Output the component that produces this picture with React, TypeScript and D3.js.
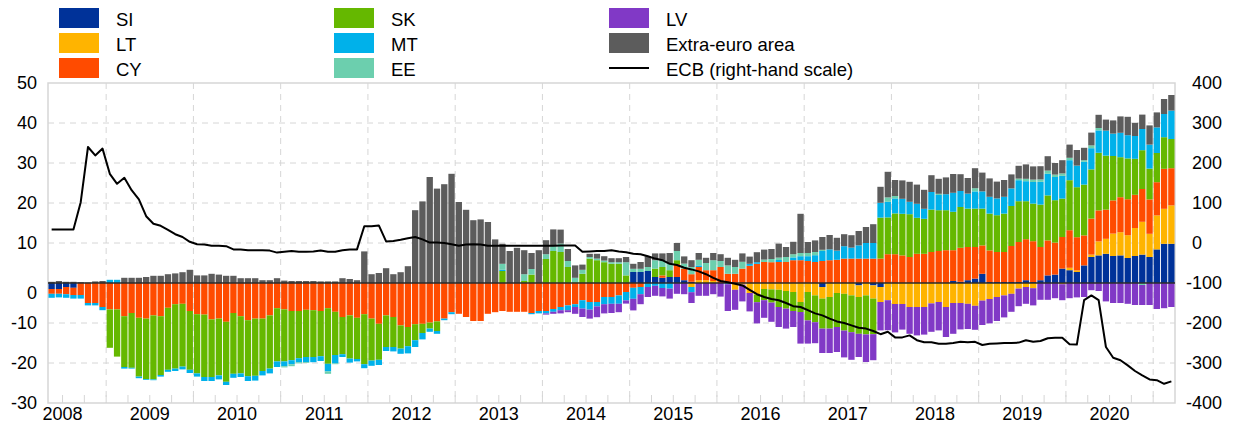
import React from "react"
import * as d3 from "d3"

// monthly observations, May 2008 - March 2021
const months = d3.timeMonth.range(new Date(2008, 4, 1), new Date(2021, 3, 1))

// left-hand scale, series (one line per year; 2008 starts in May)
const SI = [
  -1.5, -1.5, -1.0, -1.2, 0, 0, 0, 0,
  0, 0, 0, 0, 0, 0, 0, 0, 0, 0, 0, 0,
  0, 0, 0, 0, 0, 0, 0, 0, 0, 0, 0, 0,
  0, 0, 0, 0, 0, 0, 0, 0, 0, 0, 0, 0,
  0, 0, 0, 0, 0, 0, 0, 0, 0, 0, 0, 0,
  0, 0, 0, 0, 0, 0, 0, 0, 0, 0, 0, 0,
  0, 0, 0, 0, 0, 0, 0, 0, 0, 0, 0, 0,
  2.75, 2.75, 3.0, 1.5, 1.3, 1.5, 1.5, 0.7, 0.3, 0, 0, 0,
  0, 0, 0, 0, 0, 0, 0, 0, 0, 0, 0, 0,
  0, 0, -1.0, 0, 0, 0, 0, -0.6, 0, -0.6, -1.0, 0,
  0, 0, 0, 0, 0, 0, 0, 0, 0.5, 0.3, 0.7, 1.1,
  2.3, 0.25, 0.25, 0.25, 0.25, 0.25, 0.7, 0.25, 0.7, 1.9, 2.1, 3.6,
  3.2, 2.75, 4.4, 6.5, 6.9, 7.3, 6.75, 6.9, 6.25, 6.75, 7.1, 6.5,
  8.4, 9.8, 9.8,
]
const LT = [
  0, 0, 0, 0, 0, 0, 0, 0,
  0, 0, 0, 0, 0, 0, 0, 0, 0, 0, 0, 0,
  0, 0, 0, 0, 0, 0, 0, 0, 0, 0, 0, 0,
  0, 0, 0, 0, 0, 0, 0, 0, 0, 0, 0, 0,
  0, 0, 0, 0, 0, 0, 0, 0, 0, 0, 0, 0,
  0, 0, 0, 0, 0, 0, 0, 0, 0, 0, 0, 0,
  0, 0, 0, 0, 0, 0, 0, 0, 0, 0, 0, 0,
  0, 0, 0, 0, 0, 0, 0, 0, -1.0, 0.7, 0.7, 0.5,
  0, 0, -1.7, -0.4, -2.5, -2.9, -1.5, -1.6, -1.7, -2.0, -2.25, -4.75,
  -2.25, -3.1, -2.9, -3.5, -2.5, -2.7, -3.1, -2.9, -3.1, -3.3, -3.75, -4.3,
  -5.25, -5.25, -6.0, -6.0, -6.0, -5.1, -4.75, -6.0, -5.0, -5.0, -5.2, -5.7,
  -4.4, -4.0, -3.5, -3.1, -2.7, -1.4, -1.0, -1.3, 0, 0, 0, -0.3,
  0.6, 0.4, 0, 0.6, 3.5, 3.75, 5.6, 5.8, 5.7, 7.0, 8.2, 5.8,
  8.5, 8.75, 9.6,
]
const CY = [
  -1.2, -1.2, -1.8, -1.8, -3.0, -5.0, -5.0, -6.0,
  -6.6, -6.6, -8.3, -7.5, -8.7, -8.9, -8.1, -8.3, -6.2, -5.3, -5.2, -7.0,
  -7.8, -7.9, -9.1, -8.9, -9.7, -7.5, -8.3, -9.3, -8.9, -8.9, -8.1, -6.3,
  -6.6, -7.0, -7.0, -6.7, -6.8, -7.0, -6.3, -7.2, -8.5, -8.1, -8.7, -7.8,
  -8.9, -10.2, -8.1, -8.5, -10.6, -11.0, -10.3, -10.2, -9.9, -9.6, -8.9, -7.3,
  -7.7, -8.5, -9.5, -9.5, -7.7, -7.3, -7.0, -7.2, -7.2, -7.2, -7.5, -7.0,
  -7.0, -6.5, -6.0, -5.6, -5.3, -4.3, -4.75, -4.75, -3.5, -3.5, -3.1, -2.25,
  -1.2, -1.0, 0, 0, 0.6, 0, 3.2, 2.9, 1.9, 3.3, 2.5, 2.7,
  4.0, 2.3, 2.3, 3.6, 4.3, 4.8, 5.25, 5.2, 5.25, 5.25, 5.7, 5.7,
  5.5, 5.25, 5.5, 5.7, 5.8, 6.1, 6.1, 6.1, 6.1, 6.1, 6.1, 7.2,
  7.2, 6.9, 6.5, 7.3, 7.3, 7.75, 8.0, 8.2, 7.7, 8.5, 8.3, 7.9,
  7.1, 7.9, 7.5, 7.5, 9.0, 10.0, 10.25, 10.2, 8.3, 8.75, 8.0, 7.9,
  9.4, 8.3, 7.5, 9.0, 7.75, 7.3, 8.3, 8.75, 9.0, 8.3, 8.2, 8.6,
  8.3, 10.0, 9.3,
]
const SK = [
  0, 0, 0, 0, 0, 0, 0, 0,
  -9.6, -11.8, -12.7, -13.7, -14.7, -15.1, -16.0, -14.7, -15.5, -16.1, -15.7, -14.7,
  -14.8, -15.6, -14.4, -14.2, -15.0, -15.2, -14.3, -14.0, -14.3, -13.1, -13.3, -13.3,
  -13.0, -12.3, -11.8, -11.8, -11.7, -11.3, -13.9, -10.8, -9.3, -10.8, -10.3, -12.5,
  -10.5, -9.0, -7.9, -7.5, -5.8, -4.8, -4.0, -2.3, -1.5, -2.4, 0, 0,
  0, 0, 0, 0, 0, 0, 3.0, 0, 0, 0.5, 2.1, 0,
  6.0, 8.0, 7.75, 4.0, 0.2, 2.3, 6.1, 5.7, 5.2, 4.8, 4.8, 1.9,
  0, 0, 0, 2.1, 2.1, 1.7, 1.0, 0, 0, 0, 0, 0,
  0, 0, 0, 0, 0, -1.9, -2.8, -3.3, -4.3, -4.4, -4.75, -2.5,
  -7.1, -6.7, -7.5, -7.9, -8.5, -9.2, -9.2, -9.2, -9.75, -8.9, 10.25, 9.2,
  10.2, 10.4, 10.7, 9.0, 8.75, 10.6, 10.2, 10.0, 9.6, 10.2, 9.6, 9.6,
  9.2, 9.2, 9.2, 9.6, 10.0, 10.2, 9.5, 9.4, 10.6, 11.25, 10.6, 9.6,
  12.5, 12.5, 12.7, 12.3, 14.4, 13.5, 11.1, 10.0, 10.2, 9.0, 9.7, 7.7,
  7.3, 7.9, 7.3,
]
const MT = [
  -1.0, -0.9, -0.9, -0.9, -0.9, -0.6, -0.6, -0.8,
  0.8, 0.8, -0.4, -0.2, -0.4, -0.2, -0.2, -0.4, -0.5, -0.6, -0.7, -0.8,
  -0.8, -1.0, -1.0, -1.0, -0.8, -1.0, -0.9, -1.2, -1.2, -1.1, -1.2, -1.4,
  -1.2, -1.0, -1.0, -1.3, -1.3, -1.2, -1.9, -2.1, -0.7, -1.0, -0.6, -1.0,
  -1.3, -1.3, -1.0, -1.1, -1.3, -1.8, -1.7, -1.6, -0.8, -0.7, -0.4, -0.5,
  0, 0, 0, 0, 0, 0, 0.3, 0, 0, 0, -0.3, -0.6,
  -0.6, -0.7, -0.8, -1.2, -0.7, -2.1, -1.9, -1.1, -1.8, -1.7, -2.1, -2.1,
  -2.75, -1.8, -1.0, -0.7, -1.25, -1.4, 0, 0, -1.3, 0.4, 0, 0,
  0, -0.3, 0, 0, 0.5, 0.4, 0, 0, 0.5, 0, 0.7, 1.0,
  1.2, 1.7, 2.5, 2.7, 2.3, 3.1, 2.75, 3.3, 3.9, 3.9, 3.7, 3.9,
  3.75, 3.75, 3.1, 3.5, 2.5, 4.4, 3.8, 4.0, 4.75, 4.0, 3.75, 4.3,
  4.3, 4.2, 4.2, 4.2, 4.4, 5.25, 5.0, 5.4, 5.7, 5.4, 5.8, 5.7,
  5.0, 5.4, 5.7, 5.3, 5.6, 6.25, 5.6, 6.1, 5.8, 5.7, 5.3, 6.0,
  6.4, 5.8, 7.1,
]
const EE = [
  0, 0, 0, 0, 0, 0, 0, 0,
  0, 0, 0, 0, 0, 0, 0, 0, 0, 0, 0, 0,
  0, 0, 0, 0, 0, 0, 0, 0, 0, 0, 0, 0,
  -0.3, -0.5, -0.3, -0.2, 0, 0, -0.6, -0.2, 0, 0, 0, 0,
  0, 0, 0, 0, 0, 0, 0, 0, 0, 0, 0, 0,
  0, 0, 0, 0, 0, 0, 1.5, 0, 0, 1.7, 1.4, 0,
  1.2, 1.2, 2.1, 1.5, 1.1, 1.0, 0.4, 0.4, 0.4, 0.4, 0.4, 3.3,
  0.8, 0.8, 1.0, 2.1, 1.7, 1.8, 2.3, 1.25, 1.8, 1.4, 1.8, 2.5,
  1.5, 2.1, 1.7, 1.7, 0, 0, 0.6, 0.8, 0.6, 1.25, 0.8, 0.8,
  0.8, 0.8, 0.3, 0, 0, 0, 0, 0, 0, 0, 0, 1.1,
  0.6, 0, 0, 0, 0, 0, 0.3, 0, 0, 0, 0, 0.8,
  0, 0, 0, 0, 0, 0.4, 0.6, 0.6, 0.6, 0.8, 0.6, 0.6,
  0.6, 0, 0.4, 0.7, 0.6, 0, 0, 0, 0, 0, -0.5, 0,
  0, 0, 0,
]
const LV = [
  0, 0, 0, 0, 0, 0, 0, 0,
  0, 0, 0, 0, 0, 0, 0, 0, 0, 0, 0, 0,
  0, 0, 0, 0, 0, 0, 0, 0, 0, 0, 0, 0,
  0, 0, 0, 0, 0, 0, 0, 0, 0, 0, 0, 0,
  0, 0, 0, 0, 0, 0, 0, 0, 0, 0, 0, 0,
  0, 0, 0, 0, 0, 0, 0, 0, 0, 0, 0, 0,
  -0.3, -0.5, -0.8, -0.5, -1.7, -2.1, -2.25, -2.7, -2.3, -2.3, -2.1, -0.8,
  -2.9, -2.5, -2.5, -2.5, -2.1, -2.5, -2.7, -2.8, -2.7, -3.2, -3.2, -2.8,
  -3.4, -6.7, -5.0, -4.2, -4.6, -5.3, -4.4, -4.8, -5.0, -5.0, -4.0, -7.9,
  -5.8, -5.25, -6.1, -6.1, -6.25, -6.7, -6.9, -5.8, -6.9, -6.5, -7.1, -7.5,
  -7.1, -6.4, -6.7, -7.1, -6.9, -7.1, -7.1, -7.5, -7.7, -6.6, -6.3, -6.0,
  -6.1, -6.1, -6.0, -5.5, -4.5, -4.4, -4.2, -4.3, -4.2, -4.2, -3.8, -4.0,
  -3.8, -3.6, -3.5, -1.8, -2.0, -4.6, -5.0, -5.0, -5.2, -5.5, -5.0, -5.5,
  -6.5, -6.3, -6.0,
]
const EXTRA = [
  0.3, 0.5, 0.3, 0.3, 0.2, 0.1, 0.4, 0.5,
  0, 0, 1.3, 1.3, 1.3, 1.5, 1.8, 1.8, 2.2, 2.4, 2.7, 3.3,
  1.9, 1.9, 2.3, 2.1, 1.8, 1.8, 1.2, 1.2, 1.2, 0.7, 0.7, 1.2,
  0.6, 0.5, 0.5, 0.5, 0.5, 0.4, 0.4, 0.4, 1.2, 1.0, 0.7, 7.9,
  2.2, 2.5, 3.7, 2.2, 2.7, 4.2, 18.2, 20.4, 26.5, 23.6, 24.7, 27.3,
  20.25, 18.3, 15.7, 15.9, 15.25, 10.9, 5.0, 8.0, 8.8, 6.0, 4.0, 8.2,
  3.5, 4.2, 3.5, 3.0, 3.1, 1.3, 0.8, 1.2, 1.1, 1.0, 1.0, 1.3,
  1.25, 1.7, 2.7, 1.7, 1.7, 2.5, 2.0, 1.8, 1.7, 1.7, 1.3, 1.8,
  1.7, 1.9, 1.8, 2.1, 1.8, 2.5, 2.5, 2.5, 3.5, 2.5, 3.1, 9.8,
  2.75, 2.9, 3.2, 3.6, 3.2, 3.0, 3.1, 3.6, 4.0, 4.7, 4.0, 6.4,
  4.0, 4.6, 5.0, 4.8, 4.75, 4.2, 3.75, 4.2, 4.7, 4.2, 3.9, 5.0,
  4.7, 4.6, 4.2, 4.2, 3.5, 3.2, 3.6, 3.3, 3.3, 3.6, 2.9, 3.3,
  3.3, 3.9, 3.1, 3.2, 3.3, 2.75, 3.3, 4.1, 4.6, 3.3, 3.6, 4.8,
  3.75, 3.75, 3.9,
]
// right-hand scale
const ECB = [
  34, 34, 34, 34, 102, 240, 219, 236,
  173, 148, 163, 132, 109, 67, 48, 43, 33, 22, 15, 3,
  -3, -4, -7, -7, -8, -16, -16, -18, -18, -18, -19, -24,
  -22, -20, -22, -22, -21, -19, -22, -22, -18, -16, -16, 42,
  42, 44, 4, 5, 8, 12, 15, 9, 1, 1, 0, -3,
  -7, -4, -3, -4, -7, -7, -7, -7, -7, -7, -7, -7,
  -7, -7, -6, -6, -6, -22, -21, -20, -20, -18, -21, -23,
  -27, -28, -33, -39, -43, -52, -55, -62, -66, -71, -78, -87,
  -95, -98, -102, -106, -117, -128, -135, -140, -143, -150, -158, -160,
  -168, -176, -181, -189, -196, -200, -206, -212, -214, -220, -228, -222,
  -236, -236, -231, -243, -248, -248, -252, -252, -250, -247, -248, -247,
  -255, -252, -251, -250, -250, -249, -243, -247, -245, -238, -237, -237,
  -253, -254, -143, -131, -143, -260, -287, -293, -306, -320, -331, -341,
  -343, -352, -346,
]

const keys = ["SI", "LT", "CY", "SK", "MT", "EE", "LV", "EXTRA"]
const seriesData: Record<string, number[]> = { SI, LT, CY, SK, MT, EE, LV, EXTRA }
const colors: Record<string, string> = {
  SI: "#003299", LT: "#ffb400", CY: "#ff4b00", SK: "#65b800",
  MT: "#00b1ea", EE: "#6ccfae", LV: "#8139c6", EXTRA: "#5c5c5c",
}
const names: Record<string, string> = {
  SI: "SI", LT: "LT", CY: "CY", SK: "SK", MT: "MT", EE: "EE", LV: "LV", EXTRA: "Extra-euro area",
}
const legendCols = [["SI", "LT", "CY"], ["SK", "MT", "EE"], ["LV", "EXTRA", "ECB"]]

const leftTicks = [50, 40, 30, 20, 10, 0, -10, -20, -30]
const rightTicks = [400, 300, 200, 100, 0, -100, -200, -300, -400]
const years = d3.range(2008, 2021)

const W = 1234, H = 425
const L = 48, R = 1175, T = 83, B = 403
const FONT = "'Liberation Sans', Arial, Helvetica, sans-serif"
const GRID = "#d6d6d6"

export default function App() {
  const n = months.length
  const x = d3.scaleBand<number>().domain(d3.range(n)).range([L, R]).paddingInner(0.13).paddingOuter(0.065)
  const step = x.step()
  const edge = (i: number) => L + i * step
  const yL = d3.scaleLinear().domain([-30, 50]).range([B, T])
  const yR = d3.scaleLinear().domain([-400, 400]).range([B, T])

  const table = months.map((m, i) => {
    const row: Record<string, number> = {}
    keys.forEach(k => (row[k] = seriesData[k][i]))
    return row
  })
  const stacked = d3.stack<Record<string, number>>().keys(keys).offset(d3.stackOffsetDiverging)(table)

  const ecbLine = d3.line<number>()
    .x((_, i) => (x(i) as number) + x.bandwidth() / 2)
    .y(d => yR(d))

  const janIdx = months.map((m, i) => (m.getMonth() === 0 ? i : -1)).filter(i => i >= 0)
  const quarterIdx = months.map((m, i) => (m.getMonth() % 3 === 0 ? i : -1)).filter(i => i >= 0)

  return (
    <div style={{ position: "absolute", left: 0, top: 0 }}>
      <svg width={W} height={H} style={{ display: "block", background: "#fff" }} fontFamily={FONT}>
        {/* legend */}
        {legendCols.map((col, ci) =>
          col.map((k, ri) => {
            const lx = [59, 334, 609][ci]
            const ly = 8 + ri * 25
            return (
              <g key={k}>
                {k === "ECB" ? (
                  <line x1={lx} x2={lx + 40} y1={ly + 10} y2={ly + 10} stroke="#000" strokeWidth={2} />
                ) : (
                  <rect x={lx} y={ly} width={40} height={20} fill={colors[k]} />
                )}
                <text x={lx + 57} y={ly + 18} fontSize={18.5} fill="#000">
                  {k === "ECB" ? "ECB (right-hand scale)" : names[k]}
                </text>
              </g>
            )
          })
        )}

        {/* grid */}
        {leftTicks.filter(v => v !== 0 && v !== 50 && v !== -30).map(v => (
          <line key={"h" + v} x1={L} x2={R} y1={yL(v)} y2={yL(v)} stroke={GRID} strokeDasharray="6,5" />
        ))}
        {janIdx.map(i => (
          <line key={"v" + i} x1={edge(i)} x2={edge(i)} y1={T} y2={B} stroke={GRID} strokeDasharray="6,5" />
        ))}
        {quarterIdx.map(i => (
          <line key={"q" + i} x1={edge(i)} x2={edge(i)} y1={B - 8} y2={B} stroke={GRID} />
        ))}
        <rect x={L} y={T} width={R - L} height={B - T} fill="none" stroke={GRID} strokeWidth={1.5} />

        {/* bars */}
        {stacked.map(s => (
          <g key={s.key} fill={colors[s.key]}>
            {s.map((d, i) => {
              if (d[1] === d[0]) return null
              const y0 = yL(d[0]), y1 = yL(d[1])
              return <rect key={i} x={x(i)} width={x.bandwidth()} y={Math.min(y0, y1)} height={Math.abs(y0 - y1)} />
            })}
          </g>
        ))}

        {/* zero line */}
        <line x1={L} x2={R} y1={yL(0)} y2={yL(0)} stroke="#2b2b2b" strokeWidth={1.6} />

        {/* ECB line */}
        <path d={ecbLine(ECB) || ""} fill="none" stroke="#000" strokeWidth={2} strokeLinejoin="round" />

        {/* left axis */}
        {leftTicks.map(v => (
          <text key={"l" + v} x={37} y={yL(v) + 6 + (v === 0 ? 10 : 0)} textAnchor="end" fontSize={18} fill="#000">
            {v}
          </text>
        ))}
        {/* right axis */}
        {rightTicks.map(v => (
          <text key={"r" + v} x={v < 0 ? 1186 : 1192} y={yR(v) + 6} textAnchor="start" fontSize={18} fill="#000">
            {v}
          </text>
        ))}
        {/* years */}
        {years.map(yr => {
          const jan = (yr - 2008) * 12 - 4
          return (
            <text key={yr} x={edge(jan + 6)} y={420} textAnchor="middle" fontSize={18} fill="#000">
              {yr}
            </text>
          )
        })}
      </svg>
    </div>
  )
}
